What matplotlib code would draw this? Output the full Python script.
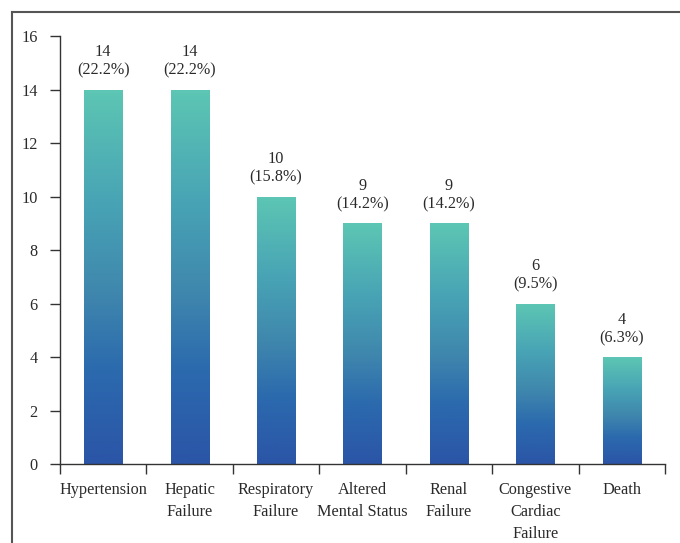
import numpy as np
import matplotlib.pyplot as plt
from matplotlib.colors import LinearSegmentedColormap
from matplotlib.lines import Line2D

plt.rcParams['font.family'] = ['Liberation Serif', 'DejaVu Serif']
plt.rcParams['font.size'] = 11.7

categories = ['Hypertension', 'Hepatic\nFailure', 'Respiratory\nFailure',
              'Altered\nMental Status', 'Renal\nFailure',
              'Congestive\nCardiac\nFailure', 'Death']
counts = [14, 14, 10, 9, 9, 6, 4]
percents = ['22.2%', '22.2%', '15.8%', '14.2%', '14.2%', '9.5%', '6.3%']
yticks = [0, 2, 4, 6, 8, 10, 12, 14, 16]

cmap = LinearSegmentedColormap.from_list(
    'bars', [(0.0, '#2b55a7'), (0.25, '#2b6aae'), (0.45, '#3f86ad'),
             (0.7, '#48a4b5'), (1.0, '#5dc6b3')])

fig = plt.figure(figsize=(6.8, 5.43), dpi=100)
ax = fig.add_axes([0.088, 0.1455, 0.89, 0.788])

x = np.arange(len(categories))
bars = ax.bar(x, counts, width=0.44, color='none', edgecolor='none')
grad = np.linspace(0, 1, 256).reshape(-1, 1)
for b in bars:
    x0, w, h = b.get_x(), b.get_width(), b.get_height()
    im = ax.imshow(grad, cmap=cmap, origin='lower', aspect='auto',
                   extent=[x0, x0 + w, 0, h], zorder=2)
    im.set_clip_path(b)

for xi, c, p in zip(x, counts, percents):
    ax.annotate(f'{c}\n({p})', (xi, c), xytext=(0, 8), textcoords='offset points',
                ha='center', va='bottom', linespacing=1.2, color='#2a2a2a')

ax.set_xlim(-0.5, len(categories) - 0.5)
ax.set_ylim(0, 16)
ax.set_yticks(yticks)
ax.set_xticks(np.arange(len(categories) + 1) - 0.5)
ax.set_xticklabels([])
ax.set_xticks(x, minor=True)
ax.set_xticklabels(categories, minor=True, linespacing=1.5, va='top',
                   color='#2a2a2a')
ax.tick_params(axis='x', which='minor', length=0, pad=13)
ax.tick_params(axis='both', which='major', direction='out', length=7,
               width=1, color='#333333')
ax.tick_params(axis='y', pad=9, labelcolor='#2a2a2a')
for s in ['top', 'right']:
    ax.spines[s].set_visible(False)
for s in ['left', 'bottom']:
    ax.spines[s].set_color('#333333')
    ax.spines[s].set_linewidth(1)

# outer frame (top and left edges)
fig.add_artist(Line2D([12 / 680, 1.0], [1 - 12 / 543] * 2, color='#555555', lw=1.5))
fig.add_artist(Line2D([12 / 680] * 2, [0.0, 1 - 12 / 543], color='#555555', lw=1.5))

fig.savefig('out.png', dpi=100)
